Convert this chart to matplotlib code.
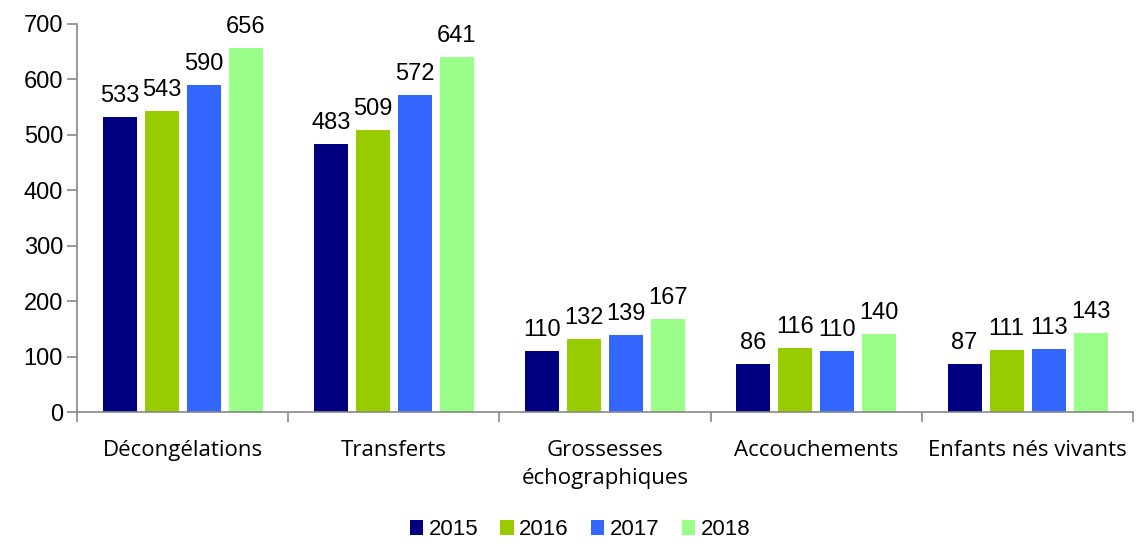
import matplotlib
matplotlib.use("Agg")
import matplotlib.pyplot as plt
import numpy as np
from matplotlib.patches import Patch

categories = ["Décongélations", "Transferts", "Grossesses\néchographiques", "Accouchements", "Enfants nés vivants"]
years = ["2015", "2016", "2017", "2018"]
v2015 = [533, 483, 110, 86, 87]
v2016 = [543, 509, 132, 116, 111]
v2017 = [590, 572, 139, 110, 113]
v2018 = [656, 641, 167, 140, 143]
series = [v2015, v2016, v2017, v2018]
colors = ["#000080", "#99CC00", "#3366FF", "#99FF88"]

fig = plt.figure(figsize=(11.37, 5.44), dpi=100)
ax = fig.add_axes([0.0677, 0.2426, 0.929, 0.7133])

x = np.arange(len(categories))
w = 0.161
step = 0.199
for i, (vals, c) in enumerate(zip(series, colors)):
    pos = x + (i - 1.5) * step
    bars = ax.bar(pos, vals, width=w, color=c, zorder=2)
    for b, v in zip(bars, vals):
        ax.annotate(str(v), (b.get_x() + b.get_width() / 2, v), xytext=(0, 15),
                    textcoords="offset pixels", ha="center", va="baseline",
                    fontsize=17, family="Liberation Sans", color="#000000")

ax.set_xlim(-0.5, len(categories) - 0.5)
ax.set_ylim(0, 700)
ax.set_yticks(range(0, 701, 100))
ax.set_yticklabels([str(v) for v in range(0, 701, 100)], fontsize=17, family="Liberation Sans")
ax.set_xticks(np.arange(len(categories) + 1) - 0.5)
ax.set_xticklabels([])
ax.set_xticks(x, minor=True)
ax.set_xticklabels(categories, minor=True, fontsize=16, family="Open Sans", linespacing=1.45)
ax.tick_params(axis="x", which="minor", length=0, pad=20)
ax.tick_params(axis="x", which="major", length=7, width=1.2, color="#888888", direction="out")
ax.tick_params(axis="y", length=7, width=1.2, color="#888888", direction="out", pad=3)
for s in ["top", "right"]:
    ax.spines[s].set_visible(False)
for s in ["left", "bottom"]:
    ax.spines[s].set_color("#888888")
    ax.spines[s].set_linewidth(1.2)

handles = [Patch(facecolor=c, label=y) for c, y in zip(colors, years)]
fig.legend(handles=handles, loc="center", bbox_to_anchor=(0.51, 0.026), ncol=4, frameon=False,
           prop={"family": "Liberation Sans", "size": 16}, handlelength=0.6, handleheight=0.6,
           handletextpad=0.25, columnspacing=1.0, borderpad=0)

fig.savefig("out.png", dpi=100)
